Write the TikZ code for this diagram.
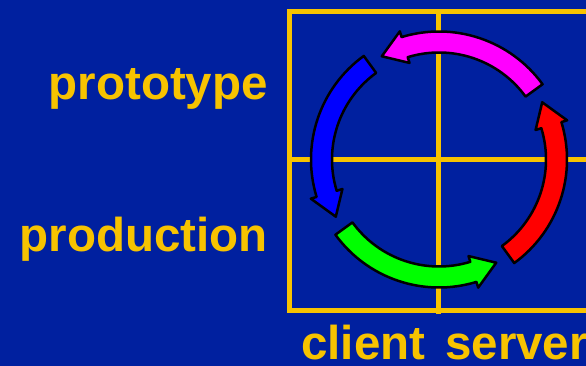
\documentclass[tikz,border=0pt]{standalone}
\usepackage{fontspec}
\setmainfont{Liberation Sans}
\usetikzlibrary{positioning}
\definecolor{fond}{RGB}{0,32,159}
\definecolor{jaune}{RGB}{247,195,0}
\definecolor{cmagenta}{RGB}{255,0,255}
\definecolor{cbleu}{RGB}{0,0,255}
\definecolor{cvert}{RGB}{0,255,0}
\definecolor{crouge}{RGB}{255,0,0}

\begin{document}
\begin{tikzpicture}[x=1pt, y=1pt,
    titre/.style={font=\fontsize{47.5}{50}\selectfont\bfseries, text=jaune, inner sep=0pt},
    grille/.style={draw=jaune, line width=5pt},
    fleche/.style={draw=black, line width=2.5pt, line join=round}
]

% Fond
\useasboundingbox (0,0) rectangle (586,366);
\clip (0,0) rectangle (586,366);
\fill[fond] (0,0) rectangle (586,366);

% Grille
\draw[grille] (289,354) rectangle (600,55);
\draw[grille] (438,354) -- (438,52);
\draw[grille] (289,206) -- (600,206);

% Textes
\node[titre, anchor=base east] (proto) at (268,266) {prototype};
\node[titre, anchor=base east] (prod) at (268,114) {production};
\node[titre, anchor=base west] (client) at (301,6) {client};
\node[titre, anchor=base west] (server) at (445,6) {server};

% Cycle
\coordinate (centre) at (439,206.5);
\begin{scope}[shift={(centre)}]
\foreach \ang/\col in {36/cmagenta, 126/cbleu, 216/cvert, 306/crouge} {
    \filldraw[fleche, fill=\col] (\ang:128pt) arc[start angle=\ang, end angle=\ang+71, radius=128pt]
        -- ({\ang+71}:134pt) -- ({\ang+83}:118pt) -- ({\ang+71}:101pt) -- ({\ang+71}:107pt)
        arc[start angle=\ang+71, end angle=\ang, radius=107pt] -- cycle;
}
\end{scope}

\end{tikzpicture}
\end{document}
